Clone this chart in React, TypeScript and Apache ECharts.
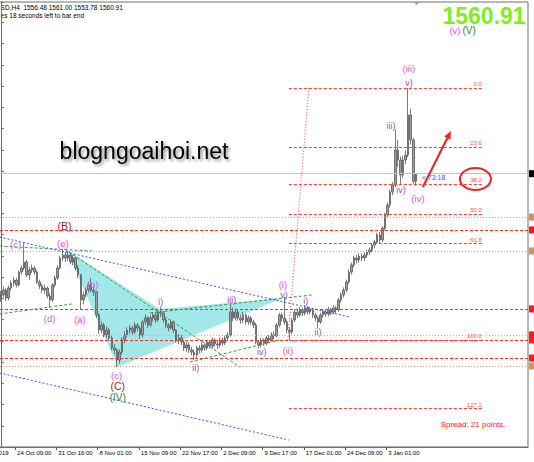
import React, { useEffect, useRef } from 'react';
import * as echarts from 'echarts';

const FONT = '"Liberation Sans", Arial, sans-serif';

// Gold, 8-hour bars: [open, close, low, high]
const bars: number[][] = [
  [1487.0, 1489.5, 1485.5, 1492.0], [1489.5, 1492.4, 1488.0, 1494.5], [1492.4, 1487.7, 1486.0, 1493.5],
  [1487.7, 1493.6, 1486.5, 1495.0], [1493.6, 1496.6, 1492.0, 1498.0], [1496.6, 1498.3, 1494.5, 1500.0],
  [1498.3, 1495.4, 1494.0, 1499.5], [1495.4, 1503.0, 1494.5, 1504.0], [1503.0, 1505.4, 1501.5, 1507.0],
  [1505.4, 1508.9, 1504.0, 1520.0], [1508.9, 1501.3, 1500.0, 1510.0], [1501.3, 1504.2, 1498.5, 1506.0],
  [1504.2, 1505.4, 1502.5, 1507.5], [1505.4, 1503.0, 1501.5, 1506.5], [1503.0, 1497.2, 1496.0, 1504.0],
  [1497.2, 1494.8, 1493.0, 1498.5], [1494.8, 1492.4, 1490.5, 1496.0], [1492.4, 1493.6, 1490.0, 1495.5],
  [1493.6, 1488.9, 1487.5, 1494.5], [1488.9, 1486.6, 1481.8, 1490.5], [1486.6, 1495.4, 1485.5, 1496.5],
  [1495.4, 1499.5, 1494.0, 1501.0], [1499.5, 1505.4, 1498.5, 1507.0], [1505.4, 1511.3, 1504.5, 1512.5],
  [1511.3, 1513.0, 1509.5, 1516.6], [1513.0, 1511.3, 1509.0, 1515.0], [1511.3, 1513.0, 1509.5, 1515.5],
  [1513.0, 1508.9, 1507.5, 1514.0], [1508.9, 1511.3, 1507.0, 1513.0], [1511.3, 1505.4, 1504.0, 1512.0],
  [1505.4, 1501.3, 1499.5, 1507.0], [1501.3, 1486.6, 1480.7, 1502.0], [1486.6, 1489.5, 1484.0, 1491.5],
  [1489.5, 1492.4, 1488.0, 1494.0], [1492.4, 1495.4, 1491.0, 1497.0], [1495.4, 1492.4, 1491.0, 1499.5],
  [1492.4, 1491.3, 1489.0, 1495.0], [1491.3, 1477.7, 1476.0, 1492.0], [1477.7, 1468.9, 1466.5, 1479.0],
  [1468.9, 1471.8, 1467.0, 1474.0], [1471.8, 1466.0, 1464.5, 1473.0], [1466.0, 1468.9, 1464.0, 1471.0],
  [1468.9, 1464.2, 1462.5, 1470.0], [1464.2, 1458.3, 1457.0, 1465.5], [1458.3, 1457.1, 1454.5, 1460.5],
  [1457.1, 1451.2, 1447.1, 1458.0], [1451.2, 1455.9, 1449.0, 1457.5], [1455.9, 1463.0, 1454.5, 1464.5],
  [1463.0, 1466.0, 1461.0, 1468.0], [1466.0, 1468.9, 1464.5, 1470.5], [1468.9, 1470.1, 1466.5, 1472.0],
  [1470.1, 1467.7, 1466.0, 1471.5], [1467.7, 1471.8, 1466.5, 1473.5], [1471.8, 1470.1, 1468.0, 1473.0],
  [1470.1, 1466.0, 1463.5, 1471.0], [1466.0, 1473.6, 1464.5, 1475.0], [1473.6, 1476.0, 1472.0, 1478.0],
  [1476.0, 1471.8, 1470.0, 1477.0], [1471.8, 1476.0, 1470.5, 1477.5], [1476.0, 1477.7, 1474.0, 1479.5],
  [1477.7, 1474.8, 1473.0, 1479.0], [1474.8, 1479.5, 1473.5, 1481.0], [1479.5, 1478.9, 1476.5, 1482.4],
  [1478.9, 1474.8, 1473.0, 1480.0], [1474.8, 1471.8, 1470.0, 1476.0], [1471.8, 1470.1, 1468.0, 1473.0],
  [1470.1, 1473.6, 1469.0, 1475.0], [1473.6, 1468.9, 1467.0, 1474.5], [1468.9, 1463.0, 1461.5, 1469.5],
  [1463.0, 1464.2, 1460.5, 1466.5], [1464.2, 1461.8, 1460.0, 1466.0], [1461.8, 1458.3, 1456.5, 1463.0],
  [1458.3, 1460.1, 1456.0, 1462.0], [1460.1, 1457.1, 1455.5, 1461.5], [1457.1, 1455.9, 1454.0, 1459.0],
  [1455.9, 1454.2, 1451.2, 1457.5], [1454.2, 1458.3, 1452.5, 1459.5], [1458.3, 1457.1, 1455.0, 1460.0],
  [1457.1, 1460.1, 1455.5, 1461.5], [1460.1, 1458.3, 1456.5, 1461.0], [1458.3, 1461.8, 1457.0, 1463.0],
  [1461.8, 1459.5, 1458.0, 1463.0], [1459.5, 1463.0, 1458.0, 1464.5], [1463.0, 1460.7, 1459.0, 1464.0],
  [1460.7, 1460.1, 1457.5, 1462.5], [1460.1, 1463.0, 1458.5, 1464.5], [1463.0, 1461.2, 1459.5, 1464.5],
  [1461.2, 1464.2, 1460.0, 1465.5], [1464.2, 1466.0, 1462.5, 1467.5], [1466.0, 1479.5, 1465.0, 1483.6],
  [1479.5, 1476.0, 1474.0, 1482.0], [1476.0, 1479.5, 1474.5, 1481.0], [1479.5, 1476.0, 1474.5, 1481.0],
  [1476.0, 1474.8, 1472.5, 1478.0], [1474.8, 1477.7, 1473.0, 1479.5], [1477.7, 1473.6, 1472.0, 1478.5],
  [1473.6, 1476.0, 1472.0, 1477.5], [1476.0, 1473.6, 1472.0, 1477.0], [1473.6, 1471.8, 1470.0, 1475.0],
  [1471.8, 1461.8, 1460.5, 1473.0], [1461.8, 1460.1, 1458.3, 1463.0], [1460.1, 1463.0, 1458.5, 1464.5],
  [1463.0, 1461.2, 1459.5, 1464.0], [1461.2, 1464.2, 1460.0, 1465.5], [1464.2, 1463.0, 1461.5, 1466.0],
  [1463.0, 1466.0, 1462.0, 1467.5], [1466.0, 1465.4, 1463.5, 1468.0], [1465.4, 1471.8, 1464.5, 1473.0],
  [1471.8, 1477.7, 1470.5, 1479.0], [1477.7, 1476.0, 1474.0, 1479.0], [1476.0, 1473.6, 1472.0, 1488.3],
  [1473.6, 1468.9, 1467.0, 1475.0], [1468.9, 1467.7, 1463.0, 1470.5], [1467.7, 1474.8, 1466.5, 1476.0],
  [1474.8, 1479.5, 1473.5, 1481.0], [1479.5, 1477.7, 1476.0, 1481.5], [1477.7, 1480.7, 1476.5, 1482.5],
  [1480.7, 1478.9, 1477.0, 1482.0], [1478.9, 1481.8, 1477.5, 1483.5], [1481.8, 1479.5, 1478.0, 1483.0],
  [1479.5, 1480.7, 1478.0, 1482.5], [1480.7, 1477.7, 1476.0, 1482.0], [1477.7, 1476.0, 1474.0, 1479.0],
  [1476.0, 1473.6, 1470.1, 1477.0], [1473.6, 1477.7, 1472.5, 1479.0], [1477.7, 1479.5, 1476.0, 1481.0],
  [1479.5, 1478.3, 1476.5, 1481.0], [1478.3, 1480.7, 1477.0, 1482.5], [1480.7, 1479.5, 1477.5, 1482.0],
  [1479.5, 1481.8, 1478.0, 1483.5], [1481.8, 1480.7, 1478.5, 1483.0], [1480.7, 1486.6, 1479.5, 1488.0],
  [1486.6, 1489.5, 1485.0, 1491.0], [1489.5, 1492.4, 1488.0, 1494.0], [1492.4, 1497.2, 1491.0, 1498.5],
  [1497.2, 1503.0, 1496.0, 1504.5], [1503.0, 1507.2, 1501.5, 1508.5], [1507.2, 1511.3, 1506.0, 1512.5],
  [1511.3, 1510.1, 1508.0, 1513.0], [1510.1, 1512.4, 1508.5, 1514.0], [1512.4, 1511.3, 1509.5, 1514.0],
  [1511.3, 1513.0, 1509.5, 1514.5], [1513.0, 1514.8, 1511.5, 1516.0], [1514.8, 1516.0, 1513.0, 1517.5],
  [1516.0, 1518.9, 1514.5, 1520.0], [1518.9, 1520.7, 1517.0, 1522.0], [1520.7, 1524.8, 1519.5, 1526.0],
  [1524.8, 1521.9, 1520.0, 1526.5], [1521.9, 1528.9, 1520.5, 1530.0], [1528.9, 1536.6, 1527.5, 1538.0],
  [1536.6, 1542.5, 1535.5, 1544.0], [1542.5, 1550.1, 1541.0, 1551.5], [1550.1, 1554.3, 1548.5, 1556.0],
  [1554.3, 1574.9, 1553.0, 1587.0], [1574.9, 1569.0, 1565.0, 1581.0], [1569.0, 1560.2, 1554.9, 1571.0],
  [1560.2, 1569.0, 1558.5, 1571.5], [1569.0, 1571.9, 1566.5, 1574.5], [1571.9, 1595.5, 1570.5, 1611.4],
  [1595.5, 1580.8, 1578.0, 1599.0], [1580.8, 1556.48, 1555.0, 1582.0], [1556.48, 1560.91, 1553.78, 1561.0],
];

const lastBar = bars[bars.length - 1];
const bidPrice = lastBar[1];

// Terminal header and corner texts
const symbolName = 'SD,H4';
const headerLine1 = `${symbolName}  ${lastBar[0].toFixed(2)} ${lastBar[3].toFixed(2)} ${lastBar[2].toFixed(2)} ${lastBar[1].toFixed(2)}`;
const headerLine2 = 'es 18 seconds left to bar end';
const spreadText = 'Spread: 21 points.';
const siteName = 'blogngoaihoi.net';
const barTimer = '< 73:18';
const barTimerAt = [163.3, 1558.8];

// Time scale labels and the bar positions they sit on
const timeLabels = ['17 Oct 2019', '24 Oct 09:00', '31 Oct 16:00', '8 Nov 01:00', '15 Nov 09:00', '22 Nov 17:00',
  '2 Dec 09:00', '9 Dec 17:00', '17 Dec 01:00', '24 Dec 09:00', '3 Jan 01:00'];
const timeLabelBars = [-10.5, 5.5, 21.5, 37.5, 53.5, 69.5, 85.5, 101.5, 117.5, 133.5, 149.5];

// Price scale step
const priceStep = 12.5;

// Fibonacci retracement
const fibHigh = 1611.4;
const fibLow = 1463.0;
const fibRatios = [0, 23.6, 38.2, 50, 61.8, 100, 127.2];
const fibSpan = [111.7, 186.6];
const fibAnchors = [[111.3, fibLow], [119.5, fibHigh]];

// Horizontal support / resistance levels
const levelPrices = [1535.4, 1527.8, 1515.4, 1481.3, 1466.0, 1463.0, 1452.4, 1447.7];
const levelKinds = ['orange', 'red', 'orange', 'red', 'pink', 'red', 'red', 'orange'];

// Trend lines, each [[bar, price], [bar, price]]
const greenLines = [
  [[-0.5, 1518.3], [35.2, 1515.4]],
  [[-0.5, 1478.3], [27.5, 1484.2]],
  [[24.7, 1516.6], [92.7, 1447.1]],
  [[57.7, 1478.9], [120.6, 1489.5]],
  [[73.3, 1450.0], [108.2, 1463.0]],
];
const blueLines = [
  [[-0.5, 1523.6], [135.4, 1476.5]],
  [[-0.5, 1443.6], [111.7, 1404.1]],
];

// Shaded pattern vertices [bar, price]
const patternArea = [[25.5, 1516.0], [61.6, 1481.3], [109.4, 1487.7], [45.3, 1447.1]];

// Hand-drawn marks: ring around the 38.2 level, arrow for the expected move
const ringCenter = [184.1, 1557.8];
const arrowFrom = [163.7, 1553.1];
const arrowTo = [174.6, 1586.1];

// Elliott wave counts
const waveLabels = [
  { text: '(c)', bar: 5.7, price: 1519.5, kind: 'minor' },
  { text: '(e)', bar: 24.0, price: 1520.1, kind: 'minor' },
  { text: '(B)', bar: 24.7, price: 1530.0, kind: 'intermediate' },
  { text: '(d)', bar: 18.9, price: 1475.9, kind: 'minor' },
  { text: '(a)', bar: 30.6, price: 1474.8, kind: 'minor' },
  { text: '(b)', bar: 35.6, price: 1495.4, kind: 'minor' },
  { text: '(c)', bar: 44.9, price: 1442.3, kind: 'minor' },
  { text: '(C)', bar: 45.3, price: 1435.9, kind: 'intermediate' },
  { text: '(IV)', bar: 45.3, price: 1429.1, kind: 'primary' },
  { text: 'i)', bar: 62.0, price: 1485.4, kind: 'minute' },
  { text: 'ii)', bar: 75.6, price: 1446.5, kind: 'minute' },
  { text: 'iii)', bar: 89.6, price: 1486.6, kind: 'minute' },
  { text: 'iv)', bar: 101.2, price: 1455.9, kind: 'minute' },
  { text: 'v)', bar: 109.8, price: 1489.5, kind: 'minute' },
  { text: '(i)', bar: 109.4, price: 1495.4, kind: 'minor' },
  { text: '(ii)', bar: 111.3, price: 1457.1, kind: 'minor' },
  { text: 'i)', bar: 118.3, price: 1486.0, kind: 'minute' },
  { text: 'ii)', bar: 123.0, price: 1467.7, kind: 'minute' },
  { text: 'iii)', bar: 151.3, price: 1589.0, kind: 'minute' },
  { text: 'iv)', bar: 155.2, price: 1551.3, kind: 'minute' },
  { text: 'v)', bar: 158.3, price: 1614.3, kind: 'minute' },
  { text: '(iii)', bar: 158.3, price: 1622.6, kind: 'minor' },
  { text: '(iv)', bar: 161.8, price: 1546.6, kind: 'minor' },
];
// Top count shows two degrees side by side
const topWaveMinor = { text: '(v)', bar: 178.3, price: 1645.3 };
const topWavePrimary = { text: '(V)', bar: 179.1, price: 1645.3 };

const MAGENTA = '#e64ce6';
const PURPLE = '#a24cba';
const DARKRED = '#9a1f1f';
const GREEN = '#2a8a3a';
const waveStyles: Record<string, { color: string; size: number }> = {
  minor: { color: MAGENTA, size: 9.5 },
  minute: { color: PURPLE, size: 9 },
  intermediate: { color: DARKRED, size: 10.5 },
  primary: { color: GREEN, size: 10 },
};

const levelStyles: Record<string, { color: string; type: number[] }> = {
  red: { color: '#ff2a2a', type: [3, 2] },
  orange: { color: '#dca36e', type: [1, 2] },
  pink: { color: '#ff9a9a', type: [1, 2] },
};
const tagColors: Record<string, string> = { red: '#ff1a1a', orange: '#d39256', pink: '#ff1a1a' };

// The plot starts a little left of the window edge, like a scrolled terminal chart
const SHIFT_X = 29.62;
const VIEW_W = 534;
const VIEW_H = 462;

function buildOption(): any {
  const fibColor = '#ff3b3b';
  const markData: any[] = [];

  levelPrices.forEach((p, i) => {
    const st = levelStyles[levelKinds[i]];
    markData.push({ yAxis: p, lineStyle: { color: st.color, type: st.type, width: 1 } });
  });
  markData.push({ yAxis: bidPrice, lineStyle: { color: '#c4c4c4', type: 'solid', width: 1 } });

  fibRatios.forEach((r) => {
    const price = fibHigh - (fibHigh - fibLow) * (r / 100);
    markData.push([
      {
        coord: [fibSpan[0], price],
        lineStyle: { color: fibColor, type: [3, 2], width: 1 },
        label: {
          show: true, position: 'insideEndTop', formatter: r.toFixed(1), color: '#ff5050',
          fontSize: 6, fontFamily: FONT, distance: [0, 1],
        },
      },
      { coord: [fibSpan[1], price] },
    ]);
  });
  markData.push([
    { coord: fibAnchors[0], lineStyle: { color: fibColor, type: [1, 2], width: 1 } },
    { coord: fibAnchors[1] },
  ]);
  greenLines.forEach(([a, b]) => {
    markData.push([{ coord: a, lineStyle: { color: '#3c9a3c', type: [3, 2], width: 1 } }, { coord: b }]);
  });
  blueLines.forEach(([a, b]) => {
    markData.push([{ coord: a, lineStyle: { color: '#4646ff', type: [2, 2], width: 1 } }, { coord: b }]);
  });

  const tagPrices = [bidPrice, ...levelPrices];
  const tagFills = ['#000000', ...levelKinds.map((k) => tagColors[k])];

  const textEl = (x: number, y: number, style: any) => ({ type: 'text', x: x + SHIFT_X, y, style: { fontFamily: FONT, ...style } });

  const waveText = (w: { text: string; bar: number; price: number }, kind: string, align: string) => ({
    type: 'custom', z: 6, silent: true,
    data: [[w.bar, w.price]],
    renderItem: (_p: any, api: any) => {
      const [x, y] = api.coord([w.bar, w.price]);
      const st = waveStyles[kind];
      return {
        type: 'text', x, y,
        style: {
          text: w.text, fill: st.color, fontSize: st.size, lineHeight: st.size,
          fontFamily: FONT, align, verticalAlign: 'middle',
        },
      };
    },
  });

  return {
    animation: false,
    textStyle: { fontFamily: FONT },
    grid: {
      left: 0, right: 6, top: 2, bottom: 15, show: true,
      borderColor: '#6e6e6e', borderWidth: 1,
    },
    xAxis: {
      type: 'value', min: -12, max: 204.5,
      axisLine: { show: true, onZero: false, lineStyle: { color: '#6e6e6e' } },
      axisTick: { show: true, length: 3, customValues: timeLabelBars, lineStyle: { color: '#555' } },
      axisLabel: {
        customValues: timeLabelBars,
        formatter: (v: number) => {
          const k = timeLabelBars.indexOf(v);
          return k >= 0 ? timeLabels[k] : '';
        },
        align: 'left', fontSize: 6, color: '#000', margin: 3, padding: [0, 0, 0, 2], fontFamily: FONT,
      },
      splitLine: { show: false },
    },
    yAxis: {
      type: 'value', min: 1400, max: 1662, interval: priceStep, position: 'right',
      axisLine: { show: true, lineStyle: { color: '#6e6e6e' } },
      axisTick: { show: true, length: 3, lineStyle: { color: '#6e6e6e' } },
      axisLabel: { show: false },
      splitLine: { show: false },
    },
    graphic: [
      textEl(1, 7, { text: headerLine1, fontSize: 6.5, fill: '#000', verticalAlign: 'middle' }),
      textEl(1, 15, { text: headerLine2, fontSize: 6.5, fill: '#000', verticalAlign: 'middle' }),
      textEl(526, 16, {
        text: bidPrice.toFixed(2), fontSize: 23, lineHeight: 18, fontWeight: 'bold', fill: '#7ef01a',
        align: 'right', verticalAlign: 'middle',
      }),
      textEl(60, 151, {
        text: siteName, fontSize: 23, fill: '#050505', verticalAlign: 'middle',
        textShadowColor: 'rgba(0,0,0,0.45)', textShadowBlur: 3, textShadowOffsetX: 2, textShadowOffsetY: 2,
      }),
      textEl(441, 424, { text: spreadText, fontSize: 8, fill: '#ff2020', verticalAlign: 'middle' }),
      {
        type: 'polygon',
        shape: { points: [[414 + SHIFT_X, 2], [420 + SHIFT_X, 2], [417 + SHIFT_X, 5]] },
        style: { fill: '#9a9a9a' },
      },
    ],
    series: [
      {
        type: 'custom', z: 1, silent: true, clip: false,
        data: [patternArea[0]],
        renderItem: (_p: any, api: any) => ({
          type: 'polygon',
          shape: { points: patternArea.map((pt) => api.coord(pt)) },
          style: { fill: '#a3e8e8' },
        }),
      },
      {
        type: 'candlestick', z: 3, silent: true,
        data: bars.map((b, i) => [i, b[0], b[1], b[2], b[3]]),
        barWidth: 2,
        itemStyle: { color: '#9c9c9c', color0: '#9c9c9c', borderColor: '#5a5a5a', borderColor0: '#5a5a5a', borderWidth: 0.8 },
        markLine: { silent: true, symbol: ['none', 'none'], label: { show: false }, animation: false, data: markData },
      },
      {
        type: 'custom', z: 5, silent: true,
        data: [ringCenter],
        renderItem: (_p: any, api: any) => {
          const c = api.coord(ringCenter);
          const a = api.coord(arrowFrom);
          const b = api.coord(arrowTo);
          const ang = Math.atan2(b[1] - a[1], b[0] - a[0]);
          const head = 8;
          const half = 3.5;
          const bx = b[0] - head * Math.cos(ang);
          const by = b[1] - head * Math.sin(ang);
          const l = [bx + half * Math.sin(ang), by - half * Math.cos(ang)];
          const r = [bx - half * Math.sin(ang), by + half * Math.cos(ang)];
          return {
            type: 'group',
            children: [
              { type: 'ellipse', shape: { cx: c[0], cy: c[1], rx: 15.5, ry: 11 }, style: { fill: 'none', stroke: '#ec2222', lineWidth: 2 } },
              { type: 'line', shape: { x1: a[0], y1: a[1], x2: bx, y2: by }, style: { stroke: '#ec2222', lineWidth: 2 } },
              { type: 'polygon', shape: { points: [b, l, r] }, style: { fill: '#ec2222' } },
            ],
          };
        },
      },
      {
        type: 'custom', z: 6, silent: true,
        data: waveLabels.map((w) => [w.bar, w.price]),
        renderItem: (params: any, api: any) => {
          const w = waveLabels[params.dataIndex];
          const st = waveStyles[w.kind];
          const [x, y] = api.coord([w.bar, w.price]);
          return {
            type: 'text', x, y,
            style: { text: w.text, fill: st.color, fontSize: st.size, fontFamily: FONT, align: 'center', verticalAlign: 'middle' },
          };
        },
      },
      waveText(topWaveMinor, 'minor', 'right'),
      waveText(topWavePrimary, 'primary', 'left'),
      {
        type: 'custom', z: 6, silent: true,
        data: [barTimerAt],
        renderItem: (_p: any, api: any) => {
          const [x, y] = api.coord(barTimerAt);
          return {
            type: 'text', x, y,
            style: { text: barTimer, fill: '#3a56ff', fontSize: 7, fontFamily: FONT, align: 'left', verticalAlign: 'middle' },
          };
        },
      },
      {
        type: 'custom', z: 6, silent: true, clip: false,
        data: tagPrices.map((p) => [0, p]),
        renderItem: (params: any, api: any) => {
          const cs = params.coordSys;
          const y = api.coord([0, api.value(1)])[1];
          return {
            type: 'rect',
            shape: { x: cs.x + cs.width + 1, y: y - 3.5, width: 8, height: 7 },
            style: { fill: tagFills[params.dataIndex] },
          };
        },
      },
    ],
  };
}

export default function App() {
  const ref = useRef<HTMLDivElement>(null);
  useEffect(() => {
    if (!ref.current) return;
    const chart = echarts.init(ref.current, null, { renderer: 'svg' });
    chart.setOption(buildOption());
    return () => chart.dispose();
  }, []);
  return (
    <div
      ref={ref}
      style={{
        width: VIEW_W + SHIFT_X, height: VIEW_H, position: 'absolute',
        left: -SHIFT_X, top: 0, background: '#fff',
      }}
    />
  );
}
